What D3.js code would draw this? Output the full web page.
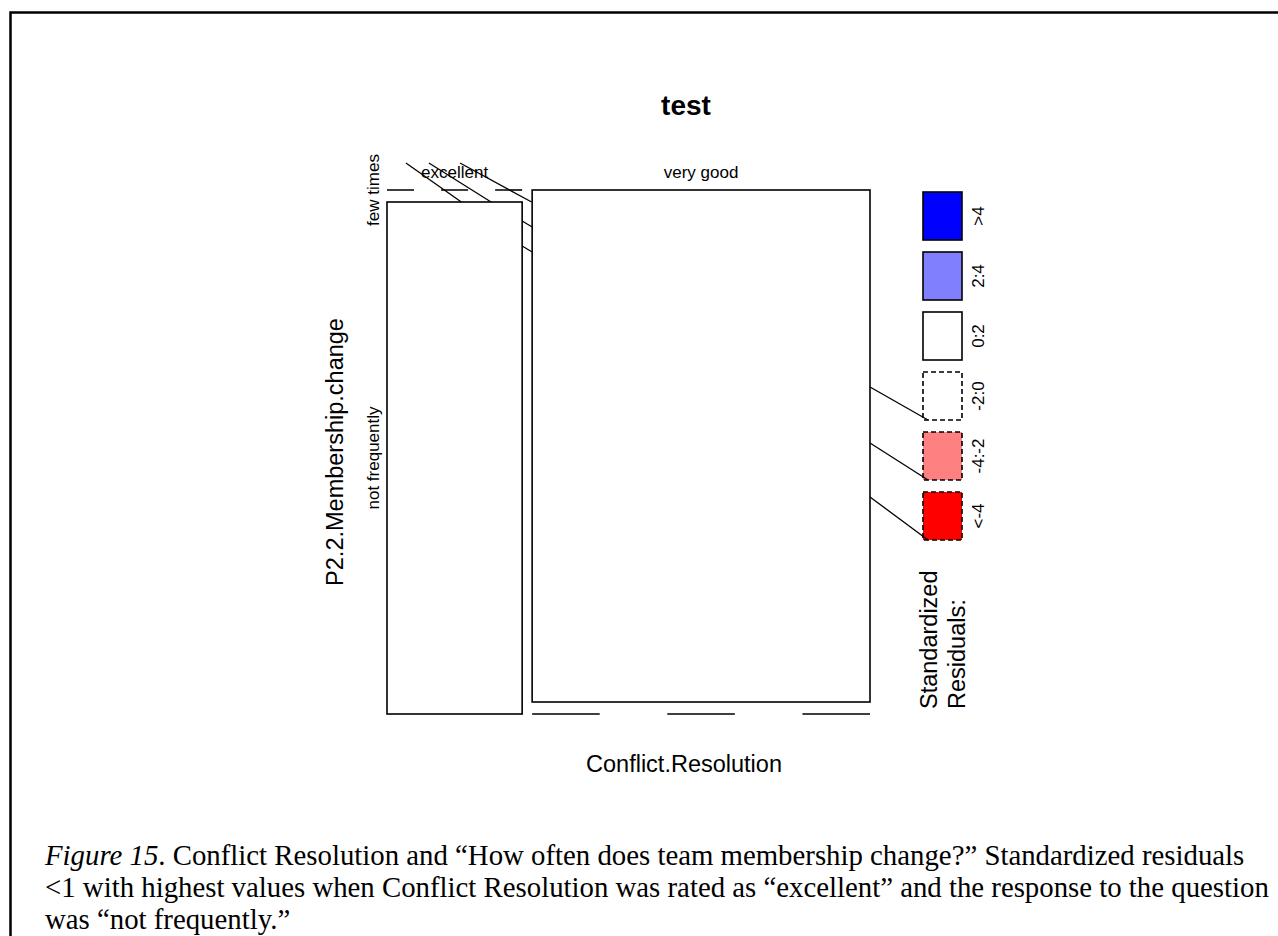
<!DOCTYPE html>
<html><head><meta charset="utf-8">
<script src="https://cdn.jsdelivr.net/npm/d3@7"></script>
<style>body{margin:0;background:#fff} svg{display:block}</style>
</head><body>
<svg id="chart" width="1278" height="936"></svg>
<script>
// ---- data ----
const conflictLevels = ["excellent", "very good"];          // columns (Conflict.Resolution)
const membershipLevels = ["few times", "not frequently"];   // rows (P2.2.Membership.change)
// cellCounts[i][j]: count for conflictLevels[i] x membershipLevels[j]
const cellCounts = [[0, 2], [5, 0]];
const residualBins = [">4", "2:4", "0:2", "-2:0", "-4:-2", "<-4"];
const binColors = ["#0000ff", "#8080ff", "#ffffff", "#ffffff", "#ff8080", "#ff0000"];
const binLower = [4, 2, 0, -2, -4, -Infinity];
const titleText = "test";
const xVarName = "Conflict.Resolution";
const yVarName = "P2.2.Membership.change";
const legendTitle = ["Standardized", "Residuals:"];
// caption lines as [text, italic?] runs
const captionLines = [
  [["Figure 15", true], [". Conflict Resolution and \u201cHow often does team membership change?\u201d Standardized residuals", false]],
  [["<1 with highest values when Conflict Resolution was rated as \u201cexcellent\u201d and the response to the question", false]],
  [["was \u201cnot frequently.\u201d", false]]
];

// ---- derived quantities ----
const nCols = conflictLevels.length, nRows = membershipLevels.length;
const colTotals = cellCounts.map(c => d3.sum(c));
const rowTotals = membershipLevels.map((_, j) => d3.sum(cellCounts, c => c[j]));
const grand = d3.sum(colTotals);
const residual = (i, j) => {
  const e = colTotals[i] * rowTotals[j] / grand;
  return (cellCounts[i][j] - e) / Math.sqrt(e);
};
const binOf = r => binLower.findIndex(lo => r >= lo);

// ---- layout ----
const svg = d3.select("#chart");
const sans = "'Liberation Sans', Arial, sans-serif";
const serif = "'Liberation Serif', 'Times New Roman', serif";
const panel = {x0: 387, x1: 870, y0: 190, y1: 714, colGap: 10, rowGap: 12};
const lineW = 1.6;

// frame around the figure
svg.append("path")
  .attr("d", "M10.5,936 V12.5 H1278")
  .attr("fill", "none").attr("stroke", "#000").attr("stroke-width", 2.5);

const xScale = d3.scaleLinear().domain([0, grand])
  .range([0, (panel.x1 - panel.x0) - panel.colGap * (nCols - 1)]);
const colStart = conflictLevels.map((_, i) =>
  panel.x0 + xScale(d3.sum(colTotals.slice(0, i))) + i * panel.colGap);

const cells = [];
conflictLevels.forEach((cl, i) => {
  const yScale = d3.scaleLinear().domain([0, colTotals[i]])
    .range([0, (panel.y1 - panel.y0) - panel.rowGap * (nRows - 1)]);
  let acc = 0;
  membershipLevels.forEach((ml, j) => {
    const v = cellCounts[i][j];
    cells.push({
      i, j, v,
      x: colStart[i], w: xScale(colTotals[i]),
      y: panel.y0 + yScale(acc) + j * panel.rowGap, h: yScale(v),
      r: residual(i, j)
    });
    acc += v;
  });
});

const g = svg.append("g");
cells.forEach(c => {
  const b = binOf(c.r);
  const neg = c.r < 0;
  if (c.v === 0) {
    g.append("line")
      .attr("x1", c.x).attr("x2", c.x + c.w).attr("y1", c.y).attr("y2", c.y)
      .attr("stroke", "#000").attr("stroke-width", lineW)
      .attr("stroke-dasharray", neg ? `${c.w / 5} ${c.w / 5}` : null);
  } else {
    g.append("rect")
      .attr("x", c.x).attr("y", c.y).attr("width", c.w).attr("height", c.h)
      .attr("fill", binColors[b]).attr("stroke", "#000").attr("stroke-width", lineW)
      .attr("stroke-dasharray", neg ? "5 3" : null);
  }
});

// leader strokes around the empty cells
const firstCol = cells.filter(c => c.i === 0);
const mainTop = d3.max(firstCol.filter(c => c.v > 0), c => c.y);
const leaderTop = [[0.14, 0.55], [0.31, 0.77], [0.54, 1.07]];
const colW0 = xScale(colTotals[0]);
leaderTop.forEach(([a, b]) => {
  g.append("line")
    .attr("x1", colStart[0] + a * colW0).attr("y1", panel.y0 - 27)
    .attr("x2", colStart[0] + b * colW0).attr("y2", mainTop)
    .attr("stroke", "#000").attr("stroke-width", 1.3);
});
[19, 44].forEach(dy => {
  g.append("line")
    .attr("x1", colStart[0] + colW0).attr("y1", mainTop + dy)
    .attr("x2", colStart[1]).attr("y2", mainTop + dy + 6)
    .attr("stroke", "#000").attr("stroke-width", 1.3);
});

// ---- legend ----
const legX = 923, legW = 39;
const legScale = d3.scaleBand().domain(residualBins).range([192, 540]).paddingInner(0.2).paddingOuter(0);
const lg = svg.append("g");
residualBins.forEach((lab, k) => {
  const y = legScale(lab);
  lg.append("rect")
    .attr("x", legX).attr("y", y).attr("width", legW).attr("height", legScale.bandwidth())
    .attr("fill", binColors[k]).attr("stroke", "#000").attr("stroke-width", lineW)
    .attr("stroke-dasharray", binLower[k] < 0 ? "5 3" : null);
  lg.append("text")
    .attr("transform", `translate(984,${y + legScale.bandwidth() / 2}) rotate(-90)`)
    .attr("text-anchor", "middle")
    .attr("font-family", sans).attr("font-size", 17).text(lab);
});
// strokes from the panel edge to the negative bins
const negLift = {"-2:0": 33, "-4:-2": 37, "<-4": 43};
Object.keys(negLift).forEach(lab => {
  const yb = legScale(lab) + legScale.bandwidth();
  lg.append("line")
    .attr("x1", panel.x1).attr("y1", yb - negLift[lab])
    .attr("x2", legX + 5).attr("y2", yb)
    .attr("stroke", "#000").attr("stroke-width", 1.3);
});
legendTitle.forEach((t, k) => {
  lg.append("text")
    .attr("transform", `translate(${937 + k * 28},${panel.y1 - 5}) rotate(-90)`)
    .attr("text-anchor", "start")
    .attr("font-family", sans).attr("font-size", 23.5).text(t);
});

// ---- labels ----
const colLabelY = 178;
conflictLevels.forEach((cl, i) => {
  svg.append("text")
    .attr("x", colStart[i] + xScale(colTotals[i]) / 2).attr("y", colLabelY)
    .attr("text-anchor", "middle").attr("font-family", sans).attr("font-size", 17)
    .text(cl);
});
firstCol.forEach(c => {
  svg.append("text")
    .attr("transform", `translate(379,${c.y + c.h / 2}) rotate(-90)`)
    .attr("text-anchor", "middle").attr("font-family", sans).attr("font-size", 17)
    .text(membershipLevels[c.j]);
});
svg.append("text")
  .attr("transform", `translate(343,${(panel.y0 + panel.y1) / 2}) rotate(-90)`)
  .attr("text-anchor", "middle").attr("font-family", sans).attr("font-size", 23.5)
  .text(yVarName);
svg.append("text")
  .attr("x", 684).attr("y", 772)
  .attr("text-anchor", "middle").attr("font-family", sans).attr("font-size", 23.5)
  .text(xVarName);
svg.append("text")
  .attr("x", 686).attr("y", 115)
  .attr("text-anchor", "middle").attr("font-family", sans).attr("font-size", 28)
  .attr("font-weight", "bold").text(titleText);

// ---- caption ----
const capX = 45, capY0 = 865, capLH = 32, capSize = 28.8;
captionLines.forEach((runs, li) => {
  const t = svg.append("text").attr("x", capX).attr("y", capY0 + li * capLH)
    .attr("font-family", serif).attr("font-size", capSize)
    .attr("xml:space", "preserve").style("white-space", "pre");
  runs.forEach(([s, it]) => t.append("tspan").attr("font-style", it ? "italic" : "normal").text(s));
});
</script>
</body></html>
